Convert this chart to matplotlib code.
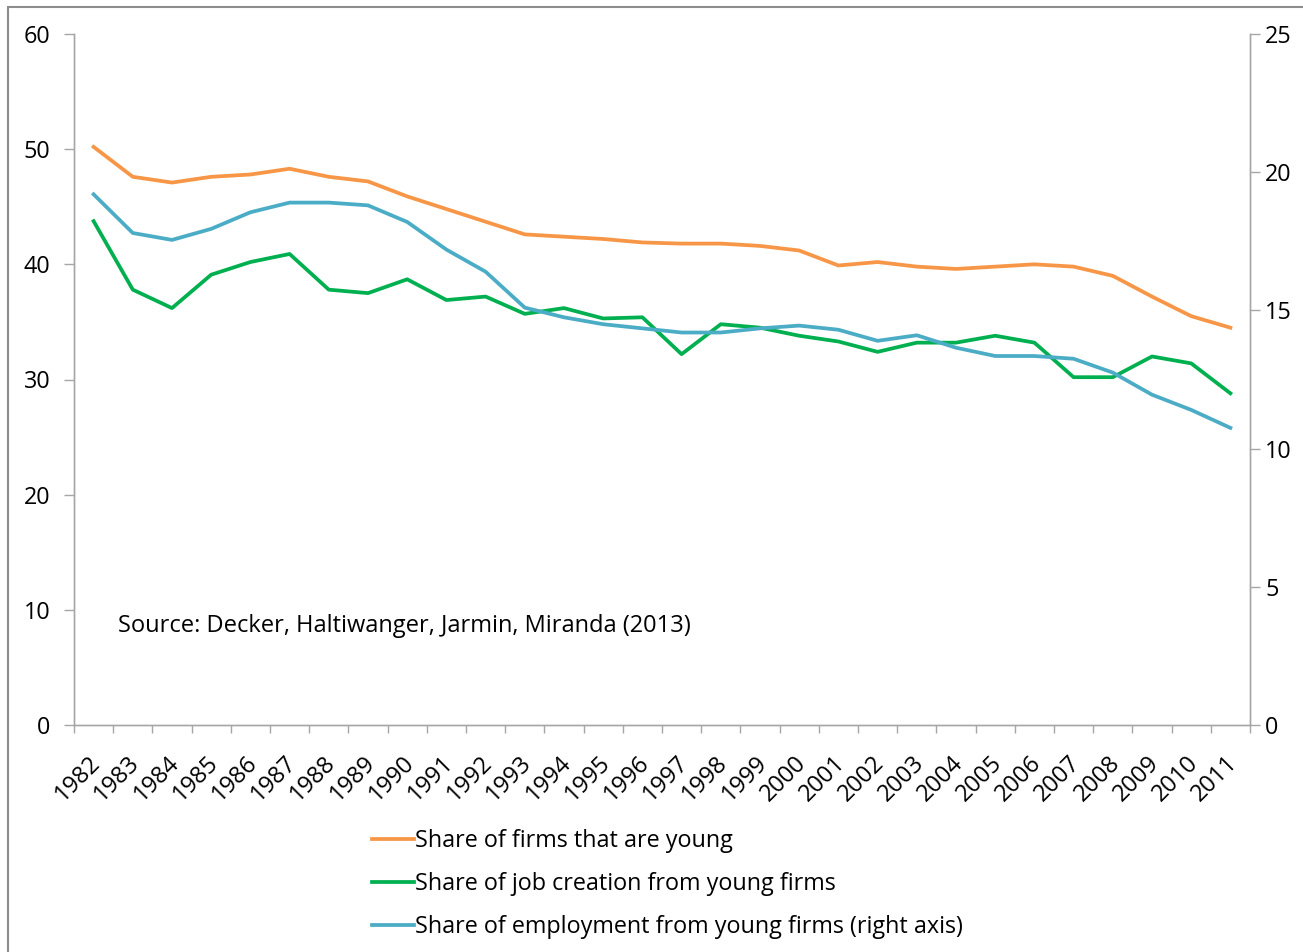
import numpy as np
import matplotlib.pyplot as plt
from matplotlib.patches import Rectangle
from matplotlib.transforms import ScaledTranslation

years = list(range(1982, 2012))

# left axis
firms_young = [50.2, 47.6, 47.1, 47.6, 47.8, 48.3, 47.6, 47.2, 45.9, 44.8,
               43.7, 42.6, 42.4, 42.2, 41.9, 41.8, 41.8, 41.6, 41.2, 39.9,
               40.2, 39.8, 39.6, 39.8, 40.0, 39.8, 39.0, 37.2, 35.5, 34.5]
job_creation = [43.75, 37.8, 36.2, 39.1, 40.2, 40.9, 37.8, 37.5, 38.7, 36.9,
                37.2, 35.7, 36.2, 35.3, 35.4, 32.2, 34.8, 34.5, 33.8, 33.3,
                32.4, 33.2, 33.2, 33.8, 33.2, 30.2, 30.2, 32.0, 31.4, 28.8]
# right axis
employment = [19.2, 17.8, 17.55, 17.95, 18.55, 18.9, 18.9, 18.8, 18.2, 17.2,
              16.4, 15.1, 14.75, 14.5, 14.35, 14.2, 14.2, 14.35, 14.45, 14.3,
              13.9, 14.1, 13.65, 13.35, 13.35, 13.25, 12.75, 11.95, 11.4, 10.75]

labels = ["Share of firms that are young",
          "Share of job creation from young firms",
          "Share of employment from young firms (right axis)"]
colors = ["#F79646", "#00B050", "#4BACC6"]

plt.rcParams['font.family'] = ['Open Sans', 'DejaVu Sans']
grey = "#A6A6A6"
fs = 16.8

fig = plt.figure(figsize=(13.03, 9.52), dpi=100)
# chart frame
fig.patches.append(Rectangle((8/1303, -0.1), 1.2, 1 - 7/952 + 0.1, transform=fig.transFigure,
                             fill=False, edgecolor="#8C8C8C", linewidth=1.5))

ax = fig.add_axes([74/1303, 1 - 725/952, (1250 - 74)/1303, (725 - 34)/952])
ax2 = ax.twinx()

x = np.arange(len(years))
l1, = ax.plot(x, firms_young, color=colors[0], lw=2.7)
l2, = ax.plot(x, job_creation, color=colors[1], lw=2.7)
l3, = ax2.plot(x, employment, color=colors[2], lw=2.7)

ax.set_xlim(-0.5, len(years) - 0.5)
ax.set_ylim(0, 60)
ax2.set_ylim(0, 25)
ax.set_yticks(range(0, 61, 10))
ax2.set_yticks(range(0, 26, 5))

ax.set_xticks(x)
ax.set_xticklabels([str(y) for y in years], rotation=45, ha="right",
                   rotation_mode="anchor", fontsize=17)
ax.set_xticks(np.arange(-0.5, len(years), 1), minor=True)
ax.tick_params(axis="x", which="major", length=0, pad=19)
ax.tick_params(axis="x", which="minor", length=6, color=grey, width=1)
shift = ScaledTranslation(-5/100, 0, fig.dpi_scale_trans)
for lab in ax.get_xticklabels():
    lab.set_transform(lab.get_transform() + shift)

for a in (ax, ax2):
    a.spines["top"].set_visible(False)
    for s in ("left", "right", "bottom"):
        a.spines[s].set_color(grey)
        a.spines[s].set_linewidth(1)
    a.tick_params(axis="y", length=7, color=grey, width=1, labelsize=fs)
ax.tick_params(axis="y", pad=10)
ax2.tick_params(axis="y", pad=4)

ax.text(0.037, 0.143, "Source: Decker, Haltiwanger, Jarmin, Miranda (2013)",
        transform=ax.transAxes, fontsize=17, va="center", ha="left")

fig.legend([l1, l2, l3], labels, loc="upper left", bbox_to_anchor=(360/1303, 1 - 817/952),
           frameon=False, fontsize=fs, handlelength=1.8, handletextpad=0.05,
           labelspacing=0.82, borderpad=0)

fig.savefig("out.png", dpi=100)
